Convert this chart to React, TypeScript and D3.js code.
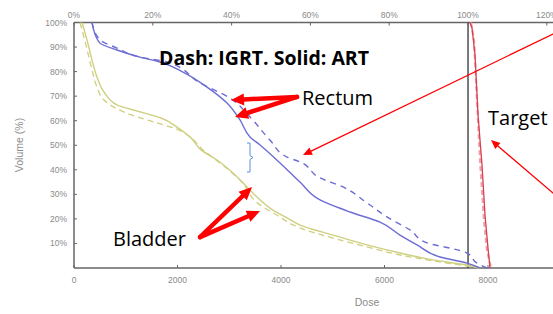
import React from "react";
import * as d3 from "d3";

const W = 553;
const H = 314;

// Dose (cGy) vs Volume (%)
const rectumArtDose = [348, 367, 502, 831, 1275, 1662, 2106, 2570, 2957, 3208, 3401, 3594, 3981, 4367, 4754, 5333, 5913, 6300, 6628, 7073, 7594, 7845];
const rectumArtVol = [100, 98.0, 91.6, 88.8, 85.9, 83.9, 79.8, 73.7, 67.2, 60.3, 53.4, 50.1, 42.8, 35.0, 27.7, 22.8, 18.7, 13.4, 9.4, 4.5, 2.0, 0];

const rectumIgrtDose = [348, 502, 831, 1275, 1797, 2435, 3014, 3401, 3787, 4116, 4367, 4754, 5198, 5662, 6048, 6493, 6821, 7266, 7594, 7787, 7981];
const rectumIgrtVol = [100, 92.9, 89.6, 85.9, 83.9, 75.4, 69.2, 61.5, 52.1, 45.2, 43.2, 36.7, 33.0, 26.5, 20.8, 15.5, 10.2, 8.1, 6.1, 2.0, 0];

const bladderArtDose = [155, 251, 348, 444, 580, 831, 1295, 1681, 1990, 2261, 2454, 2763, 3072, 3343, 3536, 3845, 4116, 4367, 5005, 5662, 6300, 6937, 7594, 7845];
const bladderArtVol = [100, 92.9, 84.7, 77.8, 71.7, 66.4, 63.5, 61.1, 57.4, 53.0, 48.1, 44.0, 38.7, 33.0, 28.9, 23.6, 20.4, 17.5, 13.4, 9.4, 6.1, 3.3, 1.2, 0];

const bladderIgrtDose = [116, 232, 348, 444, 580, 966, 1604, 1932, 2242, 2493, 2821, 3208, 3594, 3884, 4367, 5005, 5662, 6300, 6937, 7594, 7845];
const bladderIgrtVol = [100, 90.8, 80.7, 73.7, 68.4, 63.5, 59.1, 57.0, 53.4, 48.1, 42.8, 35.8, 25.7, 22.0, 16.3, 12.2, 8.6, 5.3, 2.9, 0.8, 0];

const targetArtDose = [7652, 7691, 7749, 7807, 7884, 7942, 8000, 8039];
const targetArtVol = [100, 97.8, 86.8, 62.3, 42.0, 21.6, 8.1, 0];

const targetIgrtDose = [7672, 7730, 7788, 7846, 7923, 7981, 8058];
const targetIgrtVol = [100, 92.7, 68.2, 43.8, 19.3, 7.1, 0];

const bottomTicks = [0, 2000, 4000, 6000, 8000];
const topTicks = [0, 20, 40, 60, 80, 100, 120];
const yTicks = [10, 20, 30, 40, 50, 60, 70, 80, 90, 100];
const prescriptionDose = 7614;

const x = d3.scaleLinear().domain([0, 10000]).range([74, 591.5]);
const xTop = d3.scaleLinear().domain([0, 100]).range([74, 468]);
const y = d3.scaleLinear().domain([0, 100]).range([268, 22.5]);

const line = d3
  .line<[number, number]>()
  .x((d) => x(d[0]))
  .y((d) => y(d[1]))
  .curve(d3.curveMonotoneY);

const lineLin = d3
  .line<[number, number]>()
  .x((d) => x(d[0]))
  .y((d) => y(d[1]));

const zip = (a: number[], b: number[]) => a.map((v, i) => [v, b[i]] as [number, number]);

const axisColor = "#666";
const tickText = "#8a8a8a";
const blue = "#6c6cd4";
const olive = "#cfcf80";

function Arrow({ x1, y1, x2, y2, w, head, headW }: { x1: number; y1: number; x2: number; y2: number; w: number; head: number; headW: number }) {
  const ang = Math.atan2(y2 - y1, x2 - x1);
  const bx = x2 - head * Math.cos(ang);
  const by = y2 - head * Math.sin(ang);
  const px = -Math.sin(ang) * headW;
  const py = Math.cos(ang) * headW;
  return (
    <g>
      <line x1={x1} y1={y1} x2={bx} y2={by} stroke="#ff0000" strokeWidth={w} strokeLinecap="round" />
      <polygon points={`${x2},${y2} ${bx + px},${by + py} ${bx - px},${by - py}`} fill="#ff0000" />
    </g>
  );
}

export default function App() {
  const bx = x(3401);
  const by1 = y(50.9);
  const by2 = y(39.1);
  const bm = (by1 + by2) / 2;
  const font = "'Open Sans', Lato, sans-serif";
  return (
    <svg width={W} height={H} style={{ position: "absolute", left: 0, top: 0, background: "#fff" }}>
      {/* axes */}
      <line x1={74} x2={W} y1={y(0)} y2={y(0)} stroke={axisColor} strokeWidth={1.5} />
      <line x1={74} x2={W} y1={y(100)} y2={y(100)} stroke={axisColor} strokeWidth={1.5} />
      <line x1={74} x2={74} y1={y(0)} y2={y(100)} stroke={axisColor} strokeWidth={1.5} />
      <line x1={x(prescriptionDose)} x2={x(prescriptionDose)} y1={y(0)} y2={y(100)} stroke="#333" strokeWidth={1.3} />
      {bottomTicks.map((t) => (
        <g key={"b" + t}>
          <line x1={x(t)} x2={x(t)} y1={y(0)} y2={y(0) - 3} stroke={axisColor} />
          <text x={x(t)} y={283} textAnchor="middle" fontSize={8.5} fill={tickText} fontFamily="Liberation Sans, Arial, sans-serif">
            {t}
          </text>
        </g>
      ))}
      {topTicks.map((t) => (
        <g key={"t" + t}>
          <line x1={xTop(t)} x2={xTop(t)} y1={y(100)} y2={y(100) + 3} stroke={axisColor} />
          <text x={xTop(t)} y={18} textAnchor="middle" fontSize={8.5} fill={tickText} fontFamily="Liberation Sans, Arial, sans-serif">
            {t + "%"}
          </text>
        </g>
      ))}
      {yTicks.map((t) => (
        <g key={"y" + t}>
          <line x1={74} x2={77} y1={y(t)} y2={y(t)} stroke={axisColor} />
          <text x={67} y={y(t) + 3} textAnchor="end" fontSize={8.5} fill={tickText} fontFamily="Liberation Sans, Arial, sans-serif">
            {t + "%"}
          </text>
        </g>
      ))}
      <text x={367} y={306} textAnchor="middle" fontSize={10.5} fill={tickText} fontFamily="Liberation Sans, Arial, sans-serif">
        Dose
      </text>
      <text transform="translate(23,145) rotate(-90)" textAnchor="middle" fontSize={10.5} fill={tickText} fontFamily="Liberation Sans, Arial, sans-serif">
        Volume (%)
      </text>

      {/* curves */}
      <path d={line(zip(bladderIgrtDose, bladderIgrtVol)) || ""} fill="none" stroke={olive} strokeWidth={1.3} strokeDasharray="6,4" />
      <path d={line(zip(bladderArtDose, bladderArtVol)) || ""} fill="none" stroke={olive} strokeWidth={1.4} />
      <path d={line(zip(rectumIgrtDose, rectumIgrtVol)) || ""} fill="none" stroke={blue} strokeWidth={1.4} strokeDasharray="6,5" />
      <path d={line(zip(rectumArtDose, rectumArtVol)) || ""} fill="none" stroke={blue} strokeWidth={1.4} />
      <path d={lineLin(zip(targetIgrtDose, targetIgrtVol)) || ""} fill="none" stroke="#f2a0aa" strokeWidth={2.2} strokeDasharray="5,3" />
      <path d={lineLin(zip(targetArtDose, targetArtVol)) || ""} fill="none" stroke="#d8404f" strokeWidth={1.3} />

      {/* bracket */}
      <path
        d={`M${bx - 3},${by1} L${bx},${by1} L${bx},${bm - 2} L${bx + 3},${bm} L${bx},${bm + 2} L${bx},${by2} L${bx - 3},${by2}`}
        fill="none"
        stroke="#5b8fe0"
        strokeWidth={1}
      />

      {/* annotations */}
      <Arrow x1={x(4309)} y1={y(69.7)} x2={x(3034)} y2={y(68.4)} w={4.5} head={13} headW={6} />
      <Arrow x1={x(4309)} y1={y(69.7)} x2={x(3111)} y2={y(61.5)} w={4.5} head={13} headW={6} />
      <Arrow x1={x(2435)} y1={y(12.6)} x2={x(3440)} y2={y(33.0)} w={4.5} head={13} headW={6} />
      <Arrow x1={x(2435)} y1={y(12.6)} x2={x(3594)} y2={y(23.2)} w={4.5} head={13} headW={6} />
      <Arrow x1={x(9256)} y1={y(95.3)} x2={x(4425)} y2={y(46.0)} w={1.3} head={9} headW={4} />
      <Arrow x1={x(9256)} y1={y(30.5)} x2={x(8058)} y2={y(52.1)} w={1.3} head={9} headW={4} />

      <text x={264} y={65} textAnchor="middle" fontSize={19.5} fontWeight="bold" fill="#000" fontFamily={font}>
        Dash: IGRT. Solid: ART
      </text>
      <text x={302} y={105} fontSize={20} fill="#000" fontFamily={font}>
        Rectum
      </text>
      <text x={488} y={125} fontSize={20} fill="#000" fontFamily={font}>
        Target
      </text>
      <text x={113} y={246} fontSize={20} fill="#000" fontFamily={font}>
        Bladder
      </text>
    </svg>
  );
}
